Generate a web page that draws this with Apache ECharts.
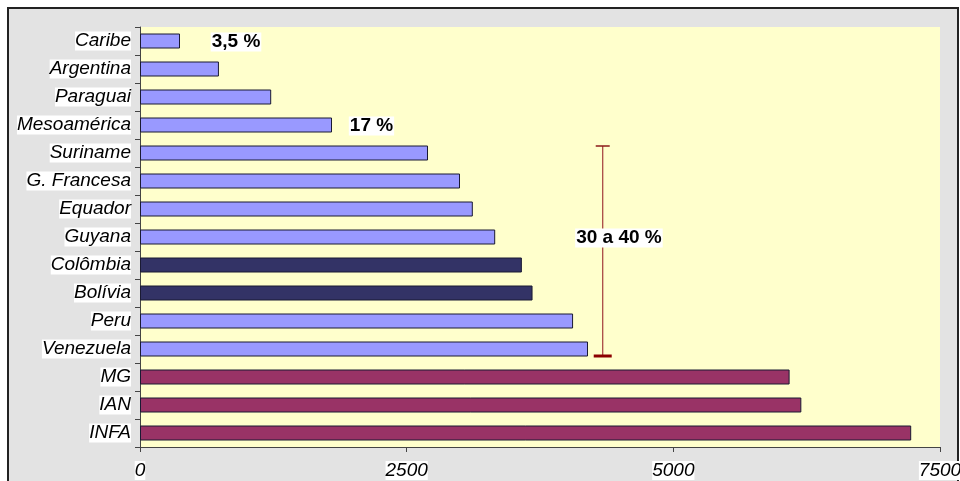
<!DOCTYPE html>
<html>
<head>
<meta charset="utf-8">
<script src="https://cdn.jsdelivr.net/npm/echarts@6/dist/echarts.min.js"></script>
<style>
  html, body { margin: 0; padding: 0; background: #ffffff; }
  #chart { width: 960px; height: 481px; }
</style>
</head>
<body>
<div id="chart"></div>
<script>
// Categories, top to bottom
const categories = ['Caribe', 'Argentina', 'Paraguai', 'Mesoamérica', 'Suriname', 'G. Francesa',
  'Equador', 'Guyana', 'Colômbia', 'Bolívia', 'Peru', 'Venezuela', 'MG', 'IAN', 'INFA'];
const values = [375, 740, 1230, 1800, 2700, 3000, 3120, 3330, 3580, 3680, 4060, 4200, 6090, 6200, 7230];
// Colour group of each bar: 0 = light blue, 1 = navy, 2 = plum
const groups = [0, 0, 0, 0, 0, 0, 0, 0, 1, 1, 0, 0, 2, 2, 2];
const groupColors = ['#9999FF', '#333366', '#993366'];
const xTicks = [0, 2500, 5000, 7500];

// Percentage notes: [x value, category index, text]
const notes = [
  [900, 0, '3,5 %'],
  [2170, 3, '17 %'],
  [4490, 7, '30 a 40 %']
];
// Range bracket: [x value, first category index, last category index]
const bracket = [[4338, 4, 11]];

const chart = echarts.init(document.getElementById('chart'), null, { renderer: 'canvas' });

const font = 'Liberation Sans, Arial, sans-serif';

chart.setOption({
  backgroundColor: '#ffffff',
  animation: false,
  graphic: [{
    type: 'rect',
    z: -10,
    shape: { x: 8, y: 8, width: 950, height: 480 },
    style: { fill: '#E3E3E3', stroke: '#222222', lineWidth: 2 }
  }],
  grid: {
    left: 140, right: 20, top: 27, bottom: 34,
    outerBoundsMode: 'none',
    containLabel: false,
    show: true, backgroundColor: '#FFFFCC', borderWidth: 0
  },
  xAxis: {
    type: 'value',
    min: xTicks[0], max: xTicks[xTicks.length - 1], interval: 2500,
    axisLine: { show: true, lineStyle: { color: '#444444', width: 1 } },
    axisTick: { show: true, length: 5, lineStyle: { color: '#444444' } },
    splitLine: { show: false },
    axisLabel: {
      fontFamily: font, fontStyle: 'italic', fontSize: 19, color: '#000',
      margin: 14, backgroundColor: '#ffffff', padding: [0, 0],
      formatter: v => String(v)
    }
  },
  yAxis: {
    type: 'category',
    inverse: true,
    data: categories,
    axisLine: { show: true, lineStyle: { color: '#444444', width: 1 } },
    axisTick: { show: true, length: 5, lineStyle: { color: '#444444' } },
    axisLabel: {
      fontFamily: font, fontStyle: 'italic', fontSize: 19, color: '#000',
      margin: 9, backgroundColor: '#ffffff', padding: [0, 0]
    }
  },
  series: [
    {
      type: 'bar',
      barWidth: 15,
      data: values.map((v, i) => ({
        value: v,
        itemStyle: { color: groupColors[groups[i]] }
      })),
      itemStyle: { borderColor: '#1a1a33', borderWidth: 1 },
      z: 2
    },
    {
      type: 'custom',
      z: 3,
      data: bracket,
      renderItem: function (params, api) {
        const x = api.value(0);
        const band = api.size([0, 1])[1];
        const top = api.coord([x, api.value(1)]);
        const bot = api.coord([x, api.value(2)]);
        const y0 = top[1] - band * 0.25;
        const y1 = bot[1] + band * 0.25;
        const px = top[0];
        return {
          type: 'group',
          children: [
            { type: 'line', shape: { x1: px, y1: y0, x2: px, y2: y1 },
              style: { stroke: '#A33A3A', lineWidth: 1.2 } },
            { type: 'line', shape: { x1: px - 7, y1: y0, x2: px + 7, y2: y0 },
              style: { stroke: '#8B1A1A', lineWidth: 1.5 } },
            { type: 'line', shape: { x1: px - 9, y1: y1, x2: px + 9, y2: y1 },
              style: { stroke: '#8B0000', lineWidth: 3 } }
          ]
        };
      }
    },
    {
      type: 'scatter',
      z: 5,
      symbolSize: 0,
      itemStyle: { opacity: 1 },
      data: notes.map(n => ({ value: [n[0], n[1]], name: n[2] })),
      label: {
        show: true,
        position: 'inside',
        formatter: p => p.name,
        fontFamily: font, fontWeight: 'bold', fontSize: 19, color: '#000000',
        opacity: 1,
        textBorderWidth: 0,
        backgroundColor: '#ffffff', padding: [0, 1], offset: [0, 1]
      },
      emphasis: { disabled: true },
      tooltip: { show: false }
    }
  ]
});
</script>
</body>
</html>
